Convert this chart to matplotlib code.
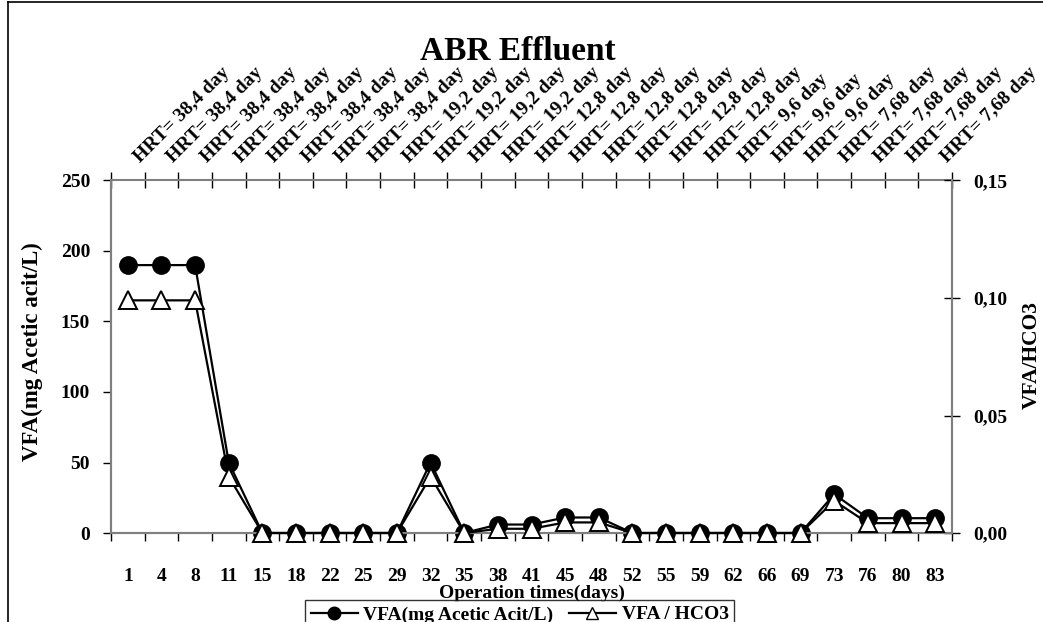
import numpy as np
import matplotlib
matplotlib.use("Agg")
import matplotlib.pyplot as plt
from matplotlib.lines import Line2D
from matplotlib.ticker import FuncFormatter
from matplotlib.transforms import ScaledTranslation

plt.rcParams['font.family'] = ['Liberation Serif', 'DejaVu Serif']
plt.rcParams['font.weight'] = 'bold'

# ---- data ----
days = ['1', '4', '8', '11', '15', '18', '22', '25', '29', '32', '35', '38', '41',
        '45', '48', '52', '55', '59', '62', '66', '69', '73', '76', '80', '83']
hrt_labels = (['HRT= 38,4 day'] * 8 + ['HRT= 19,2 day'] * 4 + ['HRT= 12,8 day'] * 6 +
              ['HRT= 9,6 day'] * 3 + ['HRT= 7,68 day'] * 4)
vfa = [190, 190, 190, 50, 0, 0, 0, 0, 0, 50, 0, 6, 6, 11, 11, 0, 0, 0, 0, 0, 0, 27.5, 10.5, 10.5, 10.5]
vfa_hco3 = [0.099, 0.099, 0.099, 0.024, 0, 0, 0, 0, 0, 0.024, 0, 0.0018, 0.0018, 0.0045, 0.0045,
            0, 0, 0, 0, 0, 0, 0.0137, 0.0042, 0.0042, 0.0042]
left_ticks = [0, 50, 100, 150, 200, 250]
right_ticks = [0, 0.05, 0.10, 0.15]

W, H = 1043, 622
fig = plt.figure(figsize=(W / 100, H / 100), dpi=100)
L, R, T, B = 111, 952, 180.5, 533
ax = fig.add_axes([L / W, 1 - B / H, (R - L) / W, (B - T) / H])
ax2 = ax.twinx()

x = np.arange(len(days))
spine_col = '#7f7f7f'

ax.plot(x, vfa, color='black', lw=1.6, marker='o', ms=12.5, mfc='black', mec='black',
        zorder=3, clip_on=False)
ax2.plot(x, vfa_hco3, color='black', lw=1.6, marker='^', ms=12.5, mfc='white', mec='black',
         mew=1.4, zorder=3, clip_on=False)

ax.set_xlim(-0.5, len(days) - 0.5)
ax.set_ylim(0, 250)
ax2.set_ylim(0, 0.15)

# bottom x axis
ax.set_xticks(np.arange(-0.5, len(days), 1))
ax.set_xticklabels([])
ax.set_xticks(x, minor=True)
ax.set_xticklabels(days, minor=True)
ax.tick_params(axis='x', which='major', direction='out', length=6, width=1, color='black')
ax.tick_params(axis='x', which='minor', length=0, pad=25, labelsize=14)
ax.set_xlabel('Operation times(days)', fontsize=14, fontweight='bold', labelpad=0)

# left y axis
ax.set_yticks(left_ticks)
ax.tick_params(axis='y', direction='out', length=6, width=1, pad=9, labelsize=14)
# right y axis
ax2.set_yticks(right_ticks)
ax2.yaxis.set_major_formatter(FuncFormatter(lambda v, p: f'{v:.2f}'.replace('.', ',')))
ax2.tick_params(axis='y', direction='inout', length=12, width=1, pad=9, labelsize=14)

for a in (ax, ax2):
    for s in a.spines.values():
        s.set_color(spine_col)
        s.set_linewidth(1.5)
ax.spines['top'].set_visible(False)
ax2.spines['top'].set_visible(False)

# top axis
sec = ax.secondary_xaxis('top')
sec.set_xticks(np.arange(-0.5, len(days), 1))
sec.set_xticklabels([])
sec.tick_params(direction='inout', length=12, width=1, color='black')
sec.spines['top'].set_color(spine_col)
sec.spines['top'].set_linewidth(1.5)

off = ScaledTranslation(12 / 100, 17 / 100, fig.dpi_scale_trans)
for i, lab in enumerate(hrt_labels):
    ax.text(i, 1, lab, transform=ax.get_xaxis_transform() + off, rotation=45,
            rotation_mode='anchor', ha='left', va='baseline', fontsize=14,
            fontweight='bold', clip_on=False)

# titles / labels
fig.text(518 / W, 1 - 60 / H, 'ABR Effluent', ha='center', va='baseline',
         fontsize=24, fontweight='bold')
fig.text(32 / W, 1 - 352 / H, 'VFA(mg Acetic acit/L)', rotation=90, ha='center',
         va='center', fontsize=16.5, fontweight='bold')
fig.text(1032 / W, 1 - 355 / H, 'VFA/HCO3', rotation=90, ha='center', va='center',
         fontsize=15.5, fontweight='bold')

# legend
h1 = Line2D([], [], color='black', lw=1.6, marker='o', ms=9, mfc='black', mec='black')
h2 = Line2D([], [], color='black', lw=1.6, marker='^', ms=9, mfc='white', mec='black')
leg = fig.legend([h1, h2], ['VFA(mg Acetic Acit/L)', 'VFA / HCO3'], loc='upper left',
                 bbox_to_anchor=(305 / W, 1 - 600 / H), ncol=2, frameon=True,
                 fancybox=False, edgecolor='black', fontsize=14, handlelength=2.4,
                 handletextpad=0.3, columnspacing=0.8, borderpad=0.3, borderaxespad=0)
leg.get_frame().set_linewidth(1.0)
for t in leg.get_texts():
    t.set_fontweight('bold')

# chart border (left and top)
fig.add_artist(Line2D([7.5 / W, 7.5 / W], [0, 1 - 1.5 / H], color='black', lw=1.2,
                      transform=fig.transFigure))
fig.add_artist(Line2D([7.5 / W, 1], [1 - 1.5 / H, 1 - 1.5 / H], color='black', lw=1.2,
                      transform=fig.transFigure))

fig.savefig('out.png', dpi=100)
